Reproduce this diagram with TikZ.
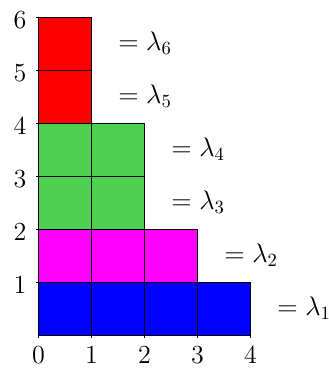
\documentclass[tikz,border=0pt]{standalone}
\usepackage{amsmath}
\usepackage{tikz}
\usetikzlibrary{positioning}
\definecolor{rowred}{RGB}{255,0,0}
\definecolor{rowgreen}{RGB}{80,208,80}
\definecolor{rowpink}{RGB}{255,0,255}
\definecolor{rowblue}{RGB}{0,0,255}

\begin{document}
\begin{tikzpicture}[
  cell/.style={draw=black, line width=0.5pt},
  lab/.style={anchor=base west, inner sep=0pt, font=\fontsize{14.5}{17}\selectfont},
  num/.style={inner sep=0pt, font=\fontsize{14}{16}\selectfont}
]
  \useasboundingbox (-0.726,-0.698) rectangle (5.462,6.32);

  % rows of the diagram: row / length / colour
  \foreach \r/\len/\col in {1/4/rowblue, 2/3/rowpink, 3/2/rowgreen,
                            4/2/rowgreen, 5/1/rowred, 6/1/rowred} {
    \foreach \c in {1,...,\len}
      \filldraw[cell, fill=\col] (\c-1,\r-1) rectangle (\c,\r);
    \node[lab] (lam\r) at (\len+0.5,\r-0.63) {$=\lambda_{\r}$};
  }

  % axes ticks and numbers
  \foreach \x in {0,...,4} {
    \draw[line width=0.5pt] (\x,0) -- (\x,-0.05);
    \node[num] (x\x) at (\x,-0.38) {\x};
  }
  \foreach \y in {1,...,6} {
    \draw[line width=0.5pt] (0,\y) -- (-0.05,\y);
    \node[num, anchor=east] (y\y) at (-0.22,\y-0.05) {\y};
  }
\end{tikzpicture}
\end{document}
